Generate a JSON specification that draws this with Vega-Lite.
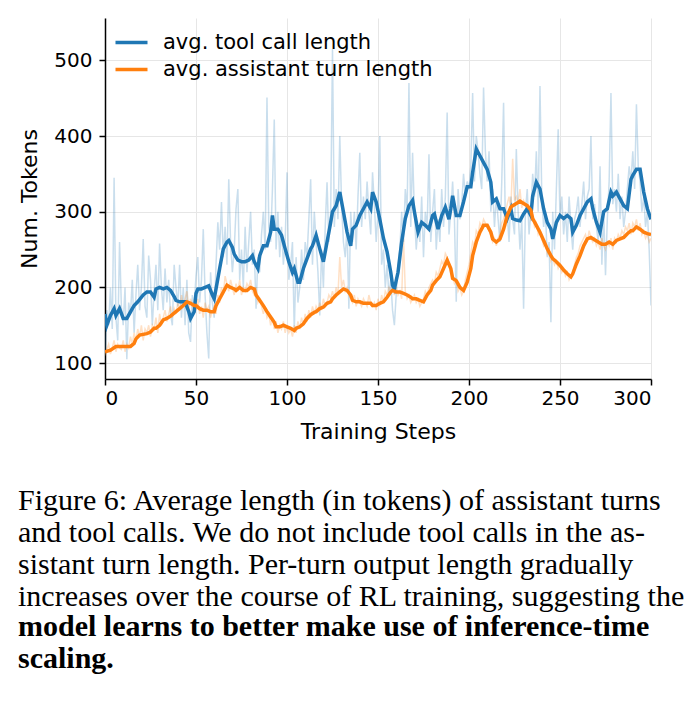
{
  "$schema": "https://vega.github.io/schema/vega-lite/v6.json",
  "width": 546,
  "height": 361,
  "autosize": {"type": "none"},
  "padding": {"left": 105, "top": 18, "right": 42, "bottom": 325},
  "background": "white",
  "title": {
    "text": ["Figure 6: Average length (in tokens) of assistant turns", "and tool calls.  We do not include tool calls in the as-", "sistant turn length.  Per-turn output length gradually", "increases over the course of RL training, suggesting the"],
    "subtitle": ["model learns to better make use of inference-time", "scaling."],
    "orient": "bottom",
    "anchor": "start",
    "frame": "group",
    "dx": -87,
    "offset": 44,
    "font": "Liberation Serif",
    "fontSize": 30,
    "fontWeight": "normal",
    "color": "black",
    "lineHeight": 32,
    "subtitleFont": "Liberation Serif",
    "subtitleFontSize": 30,
    "subtitleFontWeight": "bold",
    "subtitleColor": "black",
    "subtitleLineHeight": 32,
    "subtitlePadding": 0
  },
  "datasets": {
    "raw": [
      {"step":0,"tool":110,"asst":110},{"step":1,"tool":170,"asst":118},{"step":2,"tool":150,"asst":125},{"step":3,"tool":200,"asst":112},{"step":4,"tool":145,"asst":120},{"step":5,"tool":345,"asst":130},{"step":6,"tool":160,"asst":115},{"step":7,"tool":130,"asst":125},{"step":8,"tool":260,"asst":120},{"step":9,"tool":175,"asst":118},
      {"step":10,"tool":150,"asst":130},{"step":11,"tool":200,"asst":115},{"step":12,"tool":105,"asst":125},{"step":13,"tool":180,"asst":120},{"step":14,"tool":165,"asst":135},{"step":15,"tool":210,"asst":125},{"step":16,"tool":140,"asst":140},{"step":17,"tool":190,"asst":130},{"step":18,"tool":230,"asst":145},{"step":19,"tool":170,"asst":135},
      {"step":20,"tool":200,"asst":150},{"step":21,"tool":264,"asst":130},{"step":22,"tool":175,"asst":145},{"step":23,"tool":160,"asst":140},{"step":24,"tool":242,"asst":150},{"step":25,"tool":210,"asst":135},{"step":26,"tool":150,"asst":150},{"step":27,"tool":195,"asst":145},{"step":28,"tool":230,"asst":160},{"step":29,"tool":170,"asst":140},
      {"step":30,"tool":258,"asst":165},{"step":31,"tool":200,"asst":150},{"step":32,"tool":170,"asst":160},{"step":33,"tool":225,"asst":170},{"step":34,"tool":180,"asst":155},{"step":35,"tool":210,"asst":165},{"step":36,"tool":165,"asst":175},{"step":37,"tool":150,"asst":160},{"step":38,"tool":230,"asst":172},{"step":39,"tool":200,"asst":165},
      {"step":40,"tool":175,"asst":180},{"step":41,"tool":230,"asst":170},{"step":42,"tool":160,"asst":190},{"step":43,"tool":200,"asst":175},{"step":44,"tool":150,"asst":185},{"step":45,"tool":210,"asst":195},{"step":46,"tool":140,"asst":170},{"step":47,"tool":128,"asst":185},{"step":48,"tool":190,"asst":175},{"step":49,"tool":175,"asst":180},
      {"step":50,"tool":215,"asst":170},{"step":51,"tool":240,"asst":185},{"step":52,"tool":180,"asst":165},{"step":53,"tool":210,"asst":175},{"step":54,"tool":277,"asst":160},{"step":55,"tool":190,"asst":180},{"step":56,"tool":140,"asst":170},{"step":57,"tool":106,"asst":175},{"step":58,"tool":220,"asst":160},{"step":59,"tool":180,"asst":170},
      {"step":60,"tool":160,"asst":175},{"step":61,"tool":230,"asst":165},{"step":62,"tool":286,"asst":190},{"step":63,"tool":250,"asst":180},{"step":64,"tool":313,"asst":200},{"step":65,"tool":240,"asst":190},{"step":66,"tool":280,"asst":215},{"step":67,"tool":230,"asst":205},{"step":68,"tool":343,"asst":195},{"step":69,"tool":260,"asst":210},
      {"step":70,"tool":220,"asst":200},{"step":71,"tool":250,"asst":190},{"step":72,"tool":304,"asst":205},{"step":73,"tool":330,"asst":195},{"step":74,"tool":210,"asst":210},{"step":75,"tool":250,"asst":190},{"step":76,"tool":200,"asst":200},{"step":77,"tool":280,"asst":195},{"step":78,"tool":220,"asst":205},{"step":79,"tool":260,"asst":200},
      {"step":80,"tool":300,"asst":210},{"step":81,"tool":230,"asst":195},{"step":82,"tool":250,"asst":190},{"step":83,"tool":172,"asst":200},{"step":84,"tool":240,"asst":180},{"step":85,"tool":220,"asst":185},{"step":86,"tool":270,"asst":175},{"step":87,"tool":300,"asst":165},{"step":88,"tool":250,"asst":175},{"step":89,"tool":451,"asst":160},
      {"step":90,"tool":280,"asst":165},{"step":91,"tool":260,"asst":150},{"step":92,"tool":330,"asst":160},{"step":93,"tool":422,"asst":145},{"step":94,"tool":250,"asst":155},{"step":95,"tool":300,"asst":140},{"step":96,"tool":240,"asst":150},{"step":97,"tool":280,"asst":145},{"step":98,"tool":230,"asst":155},{"step":99,"tool":260,"asst":140},
      {"step":100,"tool":352,"asst":150},{"step":101,"tool":210,"asst":140},{"step":102,"tool":230,"asst":145},{"step":103,"tool":260,"asst":135},{"step":104,"tool":141,"asst":150},{"step":105,"tool":240,"asst":140},{"step":106,"tool":180,"asst":155},{"step":107,"tool":200,"asst":145},{"step":108,"tool":250,"asst":160},{"step":109,"tool":210,"asst":150},
      {"step":110,"tool":260,"asst":165},{"step":111,"tool":240,"asst":155},{"step":112,"tool":290,"asst":170},{"step":113,"tool":343,"asst":160},{"step":114,"tool":230,"asst":175},{"step":115,"tool":300,"asst":165},{"step":116,"tool":260,"asst":175},{"step":117,"tool":220,"asst":170},{"step":118,"tool":163,"asst":180},{"step":119,"tool":250,"asst":170},
      {"step":120,"tool":200,"asst":185},{"step":121,"tool":280,"asst":175},{"step":122,"tool":339,"asst":180},{"step":123,"tool":260,"asst":190},{"step":124,"tool":300,"asst":185},{"step":125,"tool":515,"asst":195},{"step":126,"tool":280,"asst":185},{"step":127,"tool":330,"asst":200},{"step":128,"tool":290,"asst":190},{"step":129,"tool":400,"asst":240},
      {"step":130,"tool":310,"asst":200},{"step":131,"tool":260,"asst":210},{"step":132,"tool":240,"asst":195},{"step":133,"tool":280,"asst":200},{"step":134,"tool":172,"asst":190},{"step":135,"tool":300,"asst":185},{"step":136,"tool":260,"asst":180},{"step":137,"tool":300,"asst":190},{"step":138,"tool":250,"asst":175},{"step":139,"tool":320,"asst":185},
      {"step":140,"tool":378,"asst":180},{"step":141,"tool":280,"asst":175},{"step":142,"tool":320,"asst":185},{"step":143,"tool":290,"asst":180},{"step":144,"tool":340,"asst":175},{"step":145,"tool":300,"asst":190},{"step":146,"tool":270,"asst":180},{"step":147,"tool":352,"asst":175},{"step":148,"tool":310,"asst":180},{"step":149,"tool":260,"asst":170},
      {"step":150,"tool":300,"asst":185},{"step":151,"tool":400,"asst":175},{"step":152,"tool":230,"asst":190},{"step":153,"tool":250,"asst":180},{"step":154,"tool":200,"asst":195},{"step":155,"tool":230,"asst":190},{"step":156,"tool":190,"asst":200},{"step":157,"tool":210,"asst":195},{"step":158,"tool":170,"asst":200},{"step":159,"tool":150,"asst":190},
      {"step":160,"tool":190,"asst":200},{"step":161,"tool":230,"asst":190},{"step":162,"tool":250,"asst":195},{"step":163,"tool":300,"asst":185},{"step":164,"tool":260,"asst":265},{"step":165,"tool":330,"asst":195},{"step":166,"tool":300,"asst":185},{"step":167,"tool":470,"asst":190},{"step":168,"tool":280,"asst":180},{"step":169,"tool":378,"asst":185},
      {"step":170,"tool":300,"asst":190},{"step":171,"tool":250,"asst":180},{"step":172,"tool":280,"asst":185},{"step":173,"tool":260,"asst":175},{"step":174,"tool":320,"asst":180},{"step":175,"tool":240,"asst":185},{"step":176,"tool":300,"asst":195},{"step":177,"tool":280,"asst":190},{"step":178,"tool":376,"asst":200},{"step":179,"tool":260,"asst":205},
      {"step":180,"tool":300,"asst":210},{"step":181,"tool":330,"asst":205},{"step":182,"tool":250,"asst":220},{"step":183,"tool":290,"asst":215},{"step":184,"tool":260,"asst":225},{"step":185,"tool":330,"asst":235},{"step":186,"tool":280,"asst":230},{"step":187,"tool":320,"asst":245},{"step":188,"tool":431,"asst":240},{"step":189,"tool":270,"asst":230},
      {"step":190,"tool":300,"asst":220},{"step":191,"tool":340,"asst":215},{"step":192,"tool":290,"asst":205},{"step":193,"tool":181,"asst":210},{"step":194,"tool":330,"asst":195},{"step":195,"tool":290,"asst":200},{"step":196,"tool":310,"asst":190},{"step":197,"tool":350,"asst":195},{"step":198,"tool":320,"asst":210},{"step":199,"tool":340,"asst":220},
      {"step":200,"tool":330,"asst":230},{"step":201,"tool":360,"asst":245},{"step":202,"tool":457,"asst":260},{"step":203,"tool":340,"asst":255},{"step":204,"tool":400,"asst":275},{"step":205,"tool":380,"asst":270},{"step":206,"tool":350,"asst":285},{"step":207,"tool":330,"asst":280},{"step":208,"tool":464,"asst":290},{"step":209,"tool":380,"asst":285},
      {"step":210,"tool":340,"asst":280},{"step":211,"tool":380,"asst":275},{"step":212,"tool":300,"asst":270},{"step":213,"tool":330,"asst":260},{"step":214,"tool":280,"asst":265},{"step":215,"tool":320,"asst":255},{"step":216,"tool":290,"asst":265},{"step":217,"tool":260,"asst":270},{"step":218,"tool":340,"asst":285},{"step":219,"tool":444,"asst":290},
      {"step":220,"tool":280,"asst":300},{"step":221,"tool":300,"asst":310},{"step":222,"tool":260,"asst":320},{"step":223,"tool":320,"asst":305},{"step":224,"tool":290,"asst":370},{"step":225,"tool":270,"asst":315},{"step":226,"tool":383,"asst":320},{"step":227,"tool":300,"asst":310},{"step":228,"tool":250,"asst":330},{"step":229,"tool":290,"asst":305},
      {"step":230,"tool":172,"asst":315},{"step":231,"tool":300,"asst":310},{"step":232,"tool":330,"asst":300},{"step":233,"tool":270,"asst":305},{"step":234,"tool":300,"asst":290},{"step":235,"tool":350,"asst":295},{"step":236,"tool":320,"asst":280},{"step":237,"tool":380,"asst":285},{"step":238,"tool":300,"asst":270},{"step":239,"tool":466,"asst":275},
      {"step":240,"tool":320,"asst":265},{"step":241,"tool":280,"asst":255},{"step":242,"tool":300,"asst":260},{"step":243,"tool":240,"asst":245},{"step":244,"tool":260,"asst":250},{"step":245,"tool":154,"asst":235},{"step":246,"tool":300,"asst":240},{"step":247,"tool":250,"asst":230},{"step":248,"tool":330,"asst":235},{"step":249,"tool":409,"asst":225},
      {"step":250,"tool":290,"asst":230},{"step":251,"tool":320,"asst":220},{"step":252,"tool":270,"asst":225},{"step":253,"tool":300,"asst":215},{"step":254,"tool":260,"asst":220},{"step":255,"tool":320,"asst":210},{"step":256,"tool":280,"asst":215},{"step":257,"tool":250,"asst":220},{"step":258,"tool":290,"asst":230},{"step":259,"tool":300,"asst":240},
      {"step":260,"tool":320,"asst":245},{"step":261,"tool":280,"asst":255},{"step":262,"tool":310,"asst":260},{"step":263,"tool":340,"asst":265},{"step":264,"tool":290,"asst":270},{"step":265,"tool":320,"asst":260},{"step":266,"tool":330,"asst":275},{"step":267,"tool":400,"asst":265},{"step":268,"tool":290,"asst":260},{"step":269,"tool":310,"asst":265},
      {"step":270,"tool":280,"asst":255},{"step":271,"tool":260,"asst":260},{"step":272,"tool":360,"asst":250},{"step":273,"tool":230,"asst":265},{"step":274,"tool":300,"asst":255},{"step":275,"tool":216,"asst":250},{"step":276,"tool":290,"asst":260},{"step":277,"tool":340,"asst":255},{"step":278,"tool":457,"asst":265},{"step":279,"tool":310,"asst":250},
      {"step":280,"tool":330,"asst":265},{"step":281,"tool":300,"asst":260},{"step":282,"tool":350,"asst":270},{"step":283,"tool":290,"asst":265},{"step":284,"tool":320,"asst":275},{"step":285,"tool":280,"asst":270},{"step":286,"tool":300,"asst":280},{"step":287,"tool":330,"asst":275},{"step":288,"tool":360,"asst":285},{"step":289,"tool":340,"asst":270},
      {"step":290,"tool":380,"asst":285},{"step":291,"tool":330,"asst":280},{"step":292,"tool":442,"asst":290},{"step":293,"tool":360,"asst":275},{"step":294,"tool":340,"asst":285},{"step":295,"tool":300,"asst":270},{"step":296,"tool":320,"asst":275},{"step":297,"tool":280,"asst":265},{"step":298,"tool":300,"asst":270},{"step":299,"tool":250,"asst":260},
      {"step":300,"tool":176,"asst":265}
    ],
    "smooth": [
      {"s":"tool","step":0,"v":165},{"s":"tool","step":1,"v":150},{"s":"tool","step":3,"v":163},{"s":"tool","step":5,"v":172},{"s":"tool","step":6,"v":163},{"s":"tool","step":8,"v":172},{"s":"tool","step":10,"v":159},{"s":"tool","step":12,"v":159},{"s":"tool","step":15,"v":172},{"s":"tool","step":16,"v":176},{"s":"tool","step":18,"v":181},{"s":"tool","step":21,"v":190},{"s":"tool","step":23,"v":194},{"s":"tool","step":25,"v":194},{"s":"tool","step":27,"v":187},{"s":"tool","step":28,"v":198},{"s":"tool","step":30,"v":200},{"s":"tool","step":32,"v":198},{"s":"tool","step":34,"v":200},{"s":"tool","step":36,"v":196},{"s":"tool","step":38,"v":188},{"s":"tool","step":39,"v":183},{"s":"tool","step":41,"v":181},{"s":"tool","step":44,"v":181},{"s":"tool","step":46,"v":168},{"s":"tool","step":47,"v":159},{"s":"tool","step":49,"v":168},{"s":"tool","step":50,"v":192},{"s":"tool","step":51,"v":198},{"s":"tool","step":53,"v":198},{"s":"tool","step":55,"v":200},{"s":"tool","step":57,"v":202},{"s":"tool","step":59,"v":190},{"s":"tool","step":60,"v":185},{"s":"tool","step":61,"v":198},{"s":"tool","step":63,"v":225},{"s":"tool","step":65,"v":251},{"s":"tool","step":67,"v":260},{"s":"tool","step":68,"v":262},{"s":"tool","step":70,"v":253},{"s":"tool","step":71,"v":244},{"s":"tool","step":73,"v":236},{"s":"tool","step":75,"v":234},{"s":"tool","step":77,"v":234},{"s":"tool","step":79,"v":236},{"s":"tool","step":81,"v":242},{"s":"tool","step":82,"v":234},{"s":"tool","step":84,"v":225},{"s":"tool","step":85,"v":242},{"s":"tool","step":87,"v":255},{"s":"tool","step":89,"v":255},{"s":"tool","step":91,"v":273},{"s":"tool","step":92,"v":295},{"s":"tool","step":93,"v":277},{"s":"tool","step":95,"v":277},{"s":"tool","step":97,"v":269},{"s":"tool","step":99,"v":251},{"s":"tool","step":101,"v":234},{"s":"tool","step":103,"v":220},{"s":"tool","step":104,"v":225},{"s":"tool","step":106,"v":207},{"s":"tool","step":107,"v":207},{"s":"tool","step":109,"v":225},{"s":"tool","step":111,"v":238},{"s":"tool","step":113,"v":251},{"s":"tool","step":114,"v":255},{"s":"tool","step":116,"v":269},{"s":"tool","step":118,"v":251},{"s":"tool","step":120,"v":234},{"s":"tool","step":122,"v":260},{"s":"tool","step":124,"v":286},{"s":"tool","step":125,"v":300},{"s":"tool","step":127,"v":308},{"s":"tool","step":129,"v":326},{"s":"tool","step":131,"v":300},{"s":"tool","step":133,"v":273},{"s":"tool","step":135,"v":255},{"s":"tool","step":136,"v":277},{"s":"tool","step":138,"v":282},{"s":"tool","step":140,"v":295},{"s":"tool","step":142,"v":304},{"s":"tool","step":144,"v":313},{"s":"tool","step":146,"v":304},{"s":"tool","step":147,"v":326},{"s":"tool","step":149,"v":313},{"s":"tool","step":151,"v":290},{"s":"tool","step":153,"v":265},{"s":"tool","step":155,"v":247},{"s":"tool","step":157,"v":220},{"s":"tool","step":158,"v":203},{"s":"tool","step":159,"v":198},{"s":"tool","step":161,"v":220},{"s":"tool","step":163,"v":260},{"s":"tool","step":165,"v":291},{"s":"tool","step":167,"v":308},{"s":"tool","step":169,"v":315},{"s":"tool","step":170,"v":300},{"s":"tool","step":172,"v":273},{"s":"tool","step":174,"v":286},{"s":"tool","step":176,"v":282},{"s":"tool","step":178,"v":277},{"s":"tool","step":180,"v":295},{"s":"tool","step":181,"v":297},{"s":"tool","step":183,"v":277},{"s":"tool","step":185,"v":295},{"s":"tool","step":187,"v":306},{"s":"tool","step":189,"v":290},{"s":"tool","step":190,"v":304},{"s":"tool","step":191,"v":321},{"s":"tool","step":193,"v":295},{"s":"tool","step":195,"v":295},{"s":"tool","step":197,"v":313},{"s":"tool","step":199,"v":333},{"s":"tool","step":201,"v":333},{"s":"tool","step":202,"v":352},{"s":"tool","step":204,"v":383},{"s":"tool","step":206,"v":374},{"s":"tool","step":208,"v":365},{"s":"tool","step":210,"v":356},{"s":"tool","step":212,"v":339},{"s":"tool","step":213,"v":313},{"s":"tool","step":215,"v":317},{"s":"tool","step":217,"v":304},{"s":"tool","step":219,"v":304},{"s":"tool","step":221,"v":291},{"s":"tool","step":223,"v":304},{"s":"tool","step":224,"v":291},{"s":"tool","step":226,"v":289},{"s":"tool","step":228,"v":288},{"s":"tool","step":230,"v":297},{"s":"tool","step":232,"v":304},{"s":"tool","step":234,"v":295},{"s":"tool","step":235,"v":321},{"s":"tool","step":237,"v":339},{"s":"tool","step":239,"v":330},{"s":"tool","step":241,"v":304},{"s":"tool","step":243,"v":286},{"s":"tool","step":245,"v":277},{"s":"tool","step":246,"v":264},{"s":"tool","step":248,"v":286},{"s":"tool","step":250,"v":295},{"s":"tool","step":252,"v":291},{"s":"tool","step":254,"v":295},{"s":"tool","step":256,"v":291},{"s":"tool","step":257,"v":273},{"s":"tool","step":259,"v":282},{"s":"tool","step":261,"v":295},{"s":"tool","step":263,"v":304},{"s":"tool","step":265,"v":313},{"s":"tool","step":267,"v":317},{"s":"tool","step":268,"v":304},{"s":"tool","step":270,"v":286},{"s":"tool","step":272,"v":273},{"s":"tool","step":274,"v":300},{"s":"tool","step":276,"v":304},{"s":"tool","step":278,"v":326},{"s":"tool","step":279,"v":321},{"s":"tool","step":281,"v":326},{"s":"tool","step":283,"v":317},{"s":"tool","step":285,"v":308},{"s":"tool","step":287,"v":304},{"s":"tool","step":289,"v":343},{"s":"tool","step":290,"v":348},{"s":"tool","step":292,"v":356},{"s":"tool","step":294,"v":356},{"s":"tool","step":296,"v":326},{"s":"tool","step":298,"v":304},{"s":"tool","step":300,"v":290},
      {"s":"asst","step":0,"v":115},{"s":"asst","step":3,"v":117},{"s":"asst","step":6,"v":122},{"s":"asst","step":10,"v":122},{"s":"asst","step":14,"v":122},{"s":"asst","step":16,"v":126},{"s":"asst","step":17,"v":132},{"s":"asst","step":19,"v":137},{"s":"asst","step":23,"v":139},{"s":"asst","step":25,"v":141},{"s":"asst","step":27,"v":146},{"s":"asst","step":28,"v":146},{"s":"asst","step":30,"v":150},{"s":"asst","step":32,"v":157},{"s":"asst","step":34,"v":159},{"s":"asst","step":36,"v":162},{"s":"asst","step":38,"v":166},{"s":"asst","step":39,"v":168},{"s":"asst","step":41,"v":172},{"s":"asst","step":43,"v":176},{"s":"asst","step":45,"v":181},{"s":"asst","step":47,"v":179},{"s":"asst","step":49,"v":176},{"s":"asst","step":50,"v":176},{"s":"asst","step":52,"v":172},{"s":"asst","step":54,"v":170},{"s":"asst","step":56,"v":170},{"s":"asst","step":58,"v":168},{"s":"asst","step":60,"v":168},{"s":"asst","step":61,"v":176},{"s":"asst","step":63,"v":185},{"s":"asst","step":65,"v":194},{"s":"asst","step":67,"v":203},{"s":"asst","step":69,"v":200},{"s":"asst","step":71,"v":198},{"s":"asst","step":72,"v":196},{"s":"asst","step":74,"v":200},{"s":"asst","step":76,"v":196},{"s":"asst","step":78,"v":196},{"s":"asst","step":80,"v":200},{"s":"asst","step":82,"v":198},{"s":"asst","step":83,"v":190},{"s":"asst","step":85,"v":183},{"s":"asst","step":87,"v":176},{"s":"asst","step":89,"v":168},{"s":"asst","step":91,"v":161},{"s":"asst","step":93,"v":154},{"s":"asst","step":94,"v":148},{"s":"asst","step":96,"v":148},{"s":"asst","step":98,"v":150},{"s":"asst","step":100,"v":148},{"s":"asst","step":102,"v":146},{"s":"asst","step":104,"v":143},{"s":"asst","step":105,"v":146},{"s":"asst","step":107,"v":148},{"s":"asst","step":109,"v":152},{"s":"asst","step":111,"v":159},{"s":"asst","step":113,"v":164},{"s":"asst","step":115,"v":167},{"s":"asst","step":116,"v":168},{"s":"asst","step":118,"v":172},{"s":"asst","step":120,"v":174},{"s":"asst","step":122,"v":179},{"s":"asst","step":124,"v":181},{"s":"asst","step":125,"v":185},{"s":"asst","step":127,"v":190},{"s":"asst","step":129,"v":194},{"s":"asst","step":131,"v":198},{"s":"asst","step":133,"v":196},{"s":"asst","step":135,"v":190},{"s":"asst","step":136,"v":183},{"s":"asst","step":138,"v":181},{"s":"asst","step":140,"v":181},{"s":"asst","step":142,"v":179},{"s":"asst","step":144,"v":179},{"s":"asst","step":146,"v":179},{"s":"asst","step":147,"v":176},{"s":"asst","step":149,"v":176},{"s":"asst","step":151,"v":179},{"s":"asst","step":153,"v":181},{"s":"asst","step":155,"v":187},{"s":"asst","step":157,"v":194},{"s":"asst","step":158,"v":196},{"s":"asst","step":160,"v":194},{"s":"asst","step":162,"v":194},{"s":"asst","step":164,"v":192},{"s":"asst","step":166,"v":190},{"s":"asst","step":168,"v":187},{"s":"asst","step":169,"v":185},{"s":"asst","step":171,"v":185},{"s":"asst","step":173,"v":183},{"s":"asst","step":175,"v":181},{"s":"asst","step":177,"v":190},{"s":"asst","step":179,"v":196},{"s":"asst","step":180,"v":203},{"s":"asst","step":182,"v":209},{"s":"asst","step":184,"v":214},{"s":"asst","step":186,"v":225},{"s":"asst","step":188,"v":236},{"s":"asst","step":190,"v":225},{"s":"asst","step":191,"v":212},{"s":"asst","step":193,"v":209},{"s":"asst","step":195,"v":200},{"s":"asst","step":197,"v":196},{"s":"asst","step":199,"v":207},{"s":"asst","step":201,"v":225},{"s":"asst","step":202,"v":242},{"s":"asst","step":204,"v":260},{"s":"asst","step":206,"v":273},{"s":"asst","step":208,"v":282},{"s":"asst","step":210,"v":282},{"s":"asst","step":212,"v":273},{"s":"asst","step":213,"v":264},{"s":"asst","step":215,"v":260},{"s":"asst","step":217,"v":264},{"s":"asst","step":219,"v":277},{"s":"asst","step":221,"v":295},{"s":"asst","step":223,"v":306},{"s":"asst","step":224,"v":308},{"s":"asst","step":226,"v":311},{"s":"asst","step":228,"v":314},{"s":"asst","step":230,"v":311},{"s":"asst","step":232,"v":308},{"s":"asst","step":234,"v":302},{"s":"asst","step":235,"v":291},{"s":"asst","step":237,"v":282},{"s":"asst","step":239,"v":273},{"s":"asst","step":241,"v":262},{"s":"asst","step":243,"v":251},{"s":"asst","step":245,"v":242},{"s":"asst","step":246,"v":238},{"s":"asst","step":248,"v":234},{"s":"asst","step":250,"v":229},{"s":"asst","step":252,"v":223},{"s":"asst","step":254,"v":218},{"s":"asst","step":256,"v":214},{"s":"asst","step":257,"v":218},{"s":"asst","step":259,"v":231},{"s":"asst","step":261,"v":242},{"s":"asst","step":263,"v":255},{"s":"asst","step":265,"v":264},{"s":"asst","step":267,"v":266},{"s":"asst","step":269,"v":263},{"s":"asst","step":271,"v":260},{"s":"asst","step":273,"v":257},{"s":"asst","step":275,"v":257},{"s":"asst","step":277,"v":260},{"s":"asst","step":279,"v":257},{"s":"asst","step":281,"v":262},{"s":"asst","step":283,"v":264},{"s":"asst","step":285,"v":266},{"s":"asst","step":287,"v":271},{"s":"asst","step":289,"v":275},{"s":"asst","step":290,"v":275},{"s":"asst","step":292,"v":280},{"s":"asst","step":294,"v":277},{"s":"asst","step":296,"v":273},{"s":"asst","step":298,"v":271},{"s":"asst","step":300,"v":270}
    ]
  },
  "resolve": {"scale": {"color": "independent"}, "legend": {"color": "independent"}},
  "layer": [
    {
      "data": {"name": "raw"},
      "transform": [{"fold": ["tool", "asst"], "as": ["s", "v"]}],
      "mark": {"type": "line", "strokeWidth": 1.5, "opacity": 0.24, "clip": true},
      "encoding": {
        "x": {"field": "step", "type": "quantitative"},
        "y": {"field": "v", "type": "quantitative"},
        "color": {
          "field": "s", "type": "nominal",
          "scale": {"domain": ["tool", "asst"], "range": ["#1f77b4", "#ff7f0e"]},
          "legend": null
        }
      }
    },
    {
      "data": {"name": "smooth"},
      "mark": {"type": "line", "strokeWidth": 3.5, "clip": true},
      "encoding": {
        "x": {
          "field": "step", "type": "quantitative",
          "scale": {"domain": [0, 300], "nice": false, "zero": false},
          "axis": {"title": "Training Steps", "values": [0, 50, 100, 150, 200, 250, 300]}
        },
        "y": {
          "field": "v", "type": "quantitative",
          "scale": {"domain": [79, 556], "nice": false, "zero": false},
          "axis": {"title": "Num. Tokens", "values": [100, 200, 300, 400, 500]}
        },
        "color": {
          "field": "s", "type": "nominal",
          "scale": {"domain": ["tool", "asst"], "range": ["#1f77b4", "#ff7f0e"]},
          "legend": {
            "title": null,
            "orient": "none",
            "legendX": 14,
            "legendY": 12,
            "padding": 0,
            "symbolType": "M-1.5,0H1.5",
            "symbolSize": 455,
            "symbolStrokeWidth": 3.5,
            "symbolOpacity": 1,
            "symbolFillColor": "transparent",
            "rowPadding": 4,
            "labelOffset": 19,
            "labelFontSize": 21,
            "labelFont": "DejaVu Sans",
            "labelColor": "black",
            "labelLimit": 400,
            "labelExpr": "datum.label == 'tool' ? 'avg. tool call length' : 'avg. assistant turn length'"
          }
        }
      }
    }
  ],
  "config": {
    "view": {"stroke": null},
    "font": "DejaVu Sans",
    "axis": {
      "grid": true,
      "gridColor": "#e6e6e6",
      "gridWidth": 1,
      "domainColor": "black",
      "domainWidth": 1.5,
      "tickColor": "black",
      "tickWidth": 1.5,
      "tickSize": 6,
      "labelFont": "DejaVu Sans",
      "labelFontSize": 20,
      "labelColor": "black",
      "titleFont": "DejaVu Sans",
      "titleFontSize": 22,
      "titleFontWeight": "normal",
      "titleColor": "black"
    },
    "axisX": {"labelPadding": 3, "titlePadding": 13},
    "axisY": {"labelPadding": 7, "titlePadding": 12}
  }
}
